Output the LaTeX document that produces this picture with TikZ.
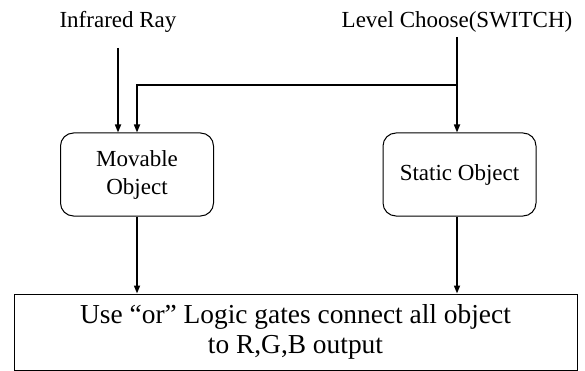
\documentclass[tikz,border=0pt]{standalone}
\usepackage{fontspec}
\setmainfont{Liberation Serif}
\usetikzlibrary{arrows.meta}
\begin{document}
\begin{tikzpicture}[x=1pt,y=-1pt,
  lbl/.style={inner sep=0pt,font=\fontsize{23}{28}\selectfont,align=center},
  objbox/.style={draw,line width=1pt,rounded corners=13pt,minimum width=153pt,minimum height=83pt,inner sep=0pt,font=\fontsize{23}{28}\selectfont,align=center},
  outbox/.style={draw,line width=1pt,minimum width=563pt,minimum height=76pt,inner sep=0pt,font=\fontsize{27.4}{30}\selectfont,align=center},
  conn/.style={line width=1.6pt,-{Triangle[length=8pt,width=6pt]}}]
\useasboundingbox (0,0) rectangle (585,371);
\node[lbl] (ir) at (118,22) {Infrared Ray};
\node[lbl] (lv) at (457,22) {Level Choose(SWITCH)};
\node[objbox] (mov) at (137,174.5) {Movable\\Object};
\node[objbox] (sta) at (459.5,174.5) {Static Object};
\node[outbox] (out) at (295.5,332) {Use “or” Logic gates connect all object\\to R,G,B output};
\coordinate (irs) at (118,48);
\coordinate (lvs) at (457,37);
\coordinate (br) at (457,85);
\draw[conn] (irs) -- (irs |- mov.north);
\draw[conn] (lvs) -- (lvs |- sta.north);
\draw[conn] (br) -- (mov.north |- br) -- (mov.north);
\draw[conn] (mov.south) -- (mov.south |- out.north);
\draw[conn] (lvs |- sta.south) -- (lvs |- out.north);
\end{tikzpicture}
\end{document}
